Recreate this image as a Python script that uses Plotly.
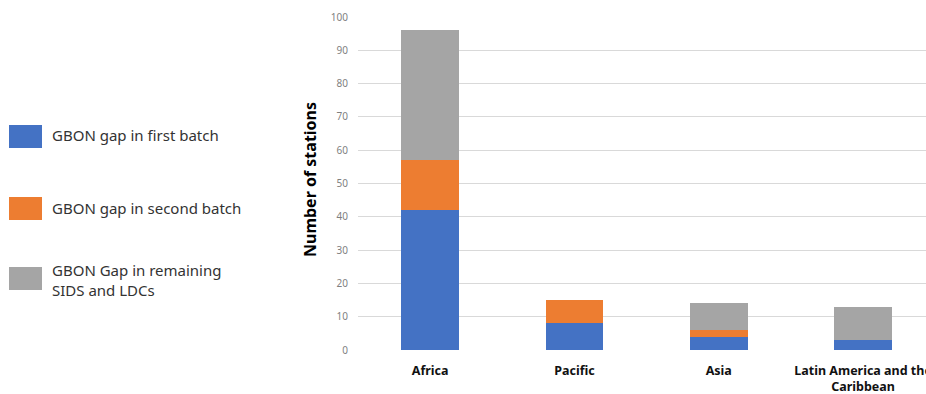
import plotly.graph_objects as go

# Regions and station gaps per batch
regions = ["Africa", "Pacific", "Asia", "Latin America and the<br>Caribbean"]
first_batch = [42, 8, 4, 3]
second_batch = [15, 7, 2, 0]
remaining = [39, 0, 8, 10]

series_names = [
    "GBON gap in first batch",
    "GBON gap in second batch",
    "GBON Gap in remaining<br>SIDS and LDCs",
]
series_values = [first_batch, second_batch, remaining]
series_colors = ["#4472C4", "#ED7D31", "#A5A5A5"]
y_ticks = list(range(0, 101, 10))

FONT = "Noto Sans"
W, H = 926, 394
ML, MR, MT, MB = 358, 0, 17, 44
PW, PH = W - ML - MR, H - MT - MB


def px_x(x):
    return (x - ML) / PW


def px_y(y):
    return (H - MB - y) / PH


fig = go.Figure()
for name, vals, col in zip(series_names, series_values, series_colors):
    fig.add_trace(go.Bar(
        x=regions, y=vals, name=name, marker=dict(color=col, line=dict(width=0)),
        showlegend=False,
    ))

# Custom legend on the left
legend_rows = [(125, 135), (197, 208), (267, 280)]
shapes = []
annotations = []
for (top, ty), name, col in zip(legend_rows, series_names, series_colors):
    shapes.append(dict(
        type="rect", xref="paper", yref="paper",
        x0=px_x(9), x1=px_x(42), y0=px_y(top + 23), y1=px_y(top),
        fillcolor=col, line=dict(width=0),
    ))
    annotations.append(dict(
        xref="paper", yref="paper", x=px_x(50), y=px_y(ty),
        xanchor="left", yanchor="middle", align="left", showarrow=False,
        text=name, font=dict(family=FONT, size=15, color="#333333"),
    ))

# Y axis title
annotations.append(dict(
    xref="paper", yref="paper", x=px_x(310), y=px_y(180), textangle=-90,
    xanchor="center", yanchor="middle", showarrow=False,
    text="<b>Number of stations</b>", font=dict(family=FONT, size=16, color="#000000"),
))

fig.update_layout(
    barmode="stack",
    bargap=0.6,
    width=W, height=H,
    margin=dict(l=ML, r=MR, t=MT, b=MB, pad=0),
    paper_bgcolor="white", plot_bgcolor="white",
    font=dict(family=FONT),
    shapes=shapes,
    annotations=annotations,
    xaxis=dict(
        range=[-0.5, 3.436], showgrid=False, zeroline=False, showline=False,
        ticks="", automargin=False, ticklabelstandoff=11,
        tickfont=dict(family=FONT, size=12.5, color="#111111"),
        tickprefix="<b>", ticksuffix="</b>",
    ),
    yaxis=dict(
        range=[0, 100], tickvals=y_ticks, showgrid=True, gridcolor="#D9D9D9",
        gridwidth=1, zeroline=False, showline=False, ticks="",
        ticklabelstandoff=9, automargin=False,
        tickfont=dict(family=FONT, size=10, color="#7F7F7F"),
    ),
)

fig.write_html("out.html")
